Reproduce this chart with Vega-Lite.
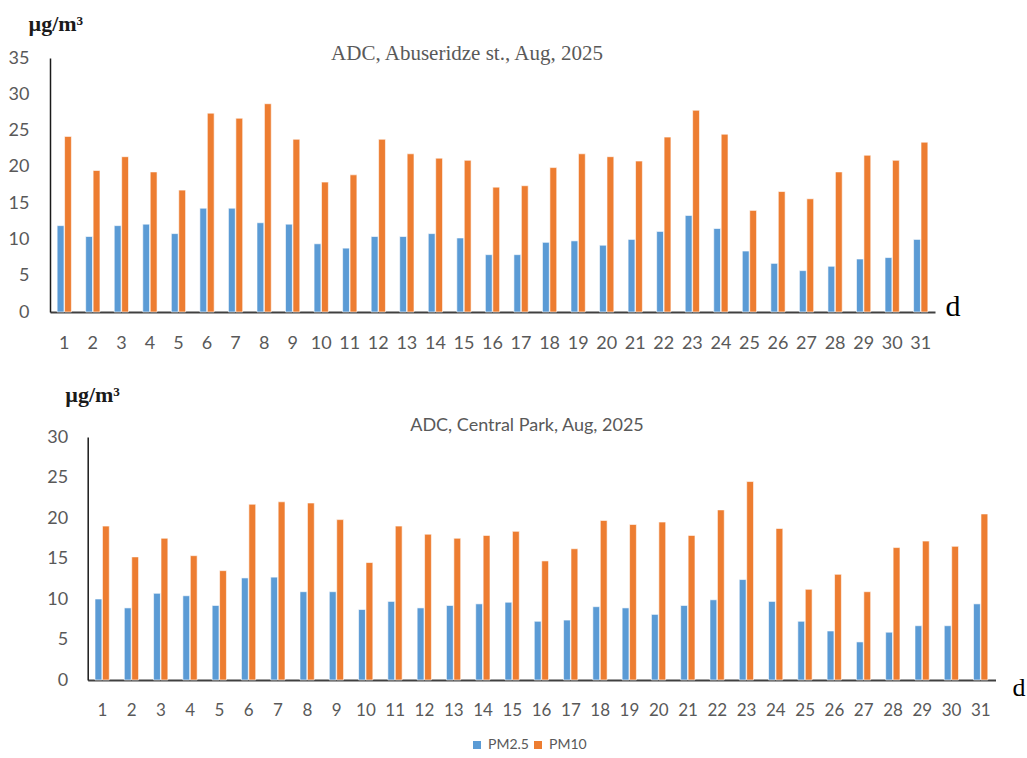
{
  "$schema": "https://vega.github.io/schema/vega-lite/v6.json",
  "padding": {"left": 8, "top": 12, "right": 5, "bottom": 5},
  "background": "white",
  "datasets": {
    "top": [
      {"day":1,"pollutant":"PM2.5","value":11.9},{"day":2,"pollutant":"PM2.5","value":10.4},{"day":3,"pollutant":"PM2.5","value":11.9},{"day":4,"pollutant":"PM2.5","value":12.1},{"day":5,"pollutant":"PM2.5","value":10.8},{"day":6,"pollutant":"PM2.5","value":14.3},{"day":7,"pollutant":"PM2.5","value":14.3},{"day":8,"pollutant":"PM2.5","value":12.3},{"day":9,"pollutant":"PM2.5","value":12.1},{"day":10,"pollutant":"PM2.5","value":9.4},{"day":11,"pollutant":"PM2.5","value":8.8},{"day":12,"pollutant":"PM2.5","value":10.4},{"day":13,"pollutant":"PM2.5","value":10.4},{"day":14,"pollutant":"PM2.5","value":10.8},{"day":15,"pollutant":"PM2.5","value":10.2},{"day":16,"pollutant":"PM2.5","value":7.9},{"day":17,"pollutant":"PM2.5","value":7.9},{"day":18,"pollutant":"PM2.5","value":9.6},{"day":19,"pollutant":"PM2.5","value":9.8},{"day":20,"pollutant":"PM2.5","value":9.2},{"day":21,"pollutant":"PM2.5","value":10.0},{"day":22,"pollutant":"PM2.5","value":11.1},{"day":23,"pollutant":"PM2.5","value":13.3},{"day":24,"pollutant":"PM2.5","value":11.5},{"day":25,"pollutant":"PM2.5","value":8.4},{"day":26,"pollutant":"PM2.5","value":6.7},{"day":27,"pollutant":"PM2.5","value":5.7},{"day":28,"pollutant":"PM2.5","value":6.3},{"day":29,"pollutant":"PM2.5","value":7.3},{"day":30,"pollutant":"PM2.5","value":7.5},{"day":31,"pollutant":"PM2.5","value":10.0},
      {"day":1,"pollutant":"PM10","value":24.2},{"day":2,"pollutant":"PM10","value":19.5},{"day":3,"pollutant":"PM10","value":21.4},{"day":4,"pollutant":"PM10","value":19.3},{"day":5,"pollutant":"PM10","value":16.8},{"day":6,"pollutant":"PM10","value":27.4},{"day":7,"pollutant":"PM10","value":26.7},{"day":8,"pollutant":"PM10","value":28.7},{"day":9,"pollutant":"PM10","value":23.8},{"day":10,"pollutant":"PM10","value":17.9},{"day":11,"pollutant":"PM10","value":18.9},{"day":12,"pollutant":"PM10","value":23.8},{"day":13,"pollutant":"PM10","value":21.8},{"day":14,"pollutant":"PM10","value":21.2},{"day":15,"pollutant":"PM10","value":20.9},{"day":16,"pollutant":"PM10","value":17.2},{"day":17,"pollutant":"PM10","value":17.4},{"day":18,"pollutant":"PM10","value":19.9},{"day":19,"pollutant":"PM10","value":21.8},{"day":20,"pollutant":"PM10","value":21.4},{"day":21,"pollutant":"PM10","value":20.8},{"day":22,"pollutant":"PM10","value":24.1},{"day":23,"pollutant":"PM10","value":27.8},{"day":24,"pollutant":"PM10","value":24.5},{"day":25,"pollutant":"PM10","value":14.0},{"day":26,"pollutant":"PM10","value":16.6},{"day":27,"pollutant":"PM10","value":15.6},{"day":28,"pollutant":"PM10","value":19.3},{"day":29,"pollutant":"PM10","value":21.6},{"day":30,"pollutant":"PM10","value":20.9},{"day":31,"pollutant":"PM10","value":23.4}
    ],
    "bottom": [
      {"day":1,"pollutant":"PM2.5","value":10.0},{"day":2,"pollutant":"PM2.5","value":8.9},{"day":3,"pollutant":"PM2.5","value":10.7},{"day":4,"pollutant":"PM2.5","value":10.4},{"day":5,"pollutant":"PM2.5","value":9.2},{"day":6,"pollutant":"PM2.5","value":12.6},{"day":7,"pollutant":"PM2.5","value":12.7},{"day":8,"pollutant":"PM2.5","value":10.9},{"day":9,"pollutant":"PM2.5","value":10.9},{"day":10,"pollutant":"PM2.5","value":8.7},{"day":11,"pollutant":"PM2.5","value":9.7},{"day":12,"pollutant":"PM2.5","value":8.9},{"day":13,"pollutant":"PM2.5","value":9.2},{"day":14,"pollutant":"PM2.5","value":9.4},{"day":15,"pollutant":"PM2.5","value":9.6},{"day":16,"pollutant":"PM2.5","value":7.25},{"day":17,"pollutant":"PM2.5","value":7.4},{"day":18,"pollutant":"PM2.5","value":9.05},{"day":19,"pollutant":"PM2.5","value":8.9},{"day":20,"pollutant":"PM2.5","value":8.1},{"day":21,"pollutant":"PM2.5","value":9.2},{"day":22,"pollutant":"PM2.5","value":9.9},{"day":23,"pollutant":"PM2.5","value":12.4},{"day":24,"pollutant":"PM2.5","value":9.7},{"day":25,"pollutant":"PM2.5","value":7.25},{"day":26,"pollutant":"PM2.5","value":6.05},{"day":27,"pollutant":"PM2.5","value":4.7},{"day":28,"pollutant":"PM2.5","value":5.9},{"day":29,"pollutant":"PM2.5","value":6.7},{"day":30,"pollutant":"PM2.5","value":6.7},{"day":31,"pollutant":"PM2.5","value":9.4},
      {"day":1,"pollutant":"PM10","value":19.0},{"day":2,"pollutant":"PM10","value":15.2},{"day":3,"pollutant":"PM10","value":17.5},{"day":4,"pollutant":"PM10","value":15.35},{"day":5,"pollutant":"PM10","value":13.5},{"day":6,"pollutant":"PM10","value":21.7},{"day":7,"pollutant":"PM10","value":22.0},{"day":8,"pollutant":"PM10","value":21.85},{"day":9,"pollutant":"PM10","value":19.8},{"day":10,"pollutant":"PM10","value":14.5},{"day":11,"pollutant":"PM10","value":19.0},{"day":12,"pollutant":"PM10","value":18.0},{"day":13,"pollutant":"PM10","value":17.5},{"day":14,"pollutant":"PM10","value":17.85},{"day":15,"pollutant":"PM10","value":18.35},{"day":16,"pollutant":"PM10","value":14.7},{"day":17,"pollutant":"PM10","value":16.2},{"day":18,"pollutant":"PM10","value":19.7},{"day":19,"pollutant":"PM10","value":19.2},{"day":20,"pollutant":"PM10","value":19.5},{"day":21,"pollutant":"PM10","value":17.85},{"day":22,"pollutant":"PM10","value":21.0},{"day":23,"pollutant":"PM10","value":24.5},{"day":24,"pollutant":"PM10","value":18.7},{"day":25,"pollutant":"PM10","value":11.2},{"day":26,"pollutant":"PM10","value":13.05},{"day":27,"pollutant":"PM10","value":10.9},{"day":28,"pollutant":"PM10","value":16.35},{"day":29,"pollutant":"PM10","value":17.15},{"day":30,"pollutant":"PM10","value":16.5},{"day":31,"pollutant":"PM10","value":20.5}
    ]
  },
  "bounds": "flush",
  "spacing": 125,
  "vconcat": [
    {
      "data": {"name": "top"},
      "width": 950,
      "height": 254,
      "title": {"text": "ADC, Abuseridze st., Aug, 2025", "font": "Liberation Serif", "fontSize": 21, "fontWeight": "normal", "color": "#595959", "anchor": "middle", "frame": "group", "dx": -58, "dy": 69, "baseline": "alphabetic", "offset": 0},
      "mark": {"type": "bar", "stroke": "white", "strokeWidth": 0.6},
      "encoding": {
        "x": {"field": "day", "type": "ordinal", "scale": {"range": [0, 885], "paddingInner": 0.5, "paddingOuter": 0.25},
          "axis": {"labelAngle": 0, "labelFont": "Lato", "labelFontSize": 18, "labelColor": "#595959", "labelBaseline": "middle", "labelPadding": 31, "ticks": false, "tickSize": 0, "domainColor": "#404040", "domainWidth": 2,
            "title": "d", "titleFont": "Liberation Serif", "titleFontSize": 30, "titleFontWeight": "normal", "titleColor": "#000000", "titleX": 895, "titleY": 3, "titleAlign": "left", "titleBaseline": "alphabetic", "titleAngle": 0}},
        "xOffset": {"field": "pollutant", "type": "nominal", "scale": {"domain": ["PM2.5", "PM10"], "paddingInner": 0.08}},
        "y": {"field": "value", "type": "quantitative", "scale": {"domain": [0, 35], "nice": false},
          "axis": {"values": [0,5,10,15,20,25,30,35], "grid": false, "ticks": false, "tickSize": 0, "labelFont": "Lato", "labelFontSize": 18, "labelColor": "#595959", "labelPadding": 21, "domainColor": "#1a1a1a", "domainWidth": 1.5,
            "title": "µg/m³", "titleFont": "Liberation Serif", "titleFontSize": 22, "titleFontWeight": "bold", "titleColor": "#1a1a1a", "titleAngle": 0, "titleX": -22, "titleY": -28, "titleAlign": "left", "titleBaseline": "alphabetic"}},
        "color": {"field": "pollutant", "type": "nominal", "scale": {"domain": ["PM2.5", "PM10"], "range": ["#5B9BD5", "#ED7D31"]},
          "legend": {"orient": "none", "legendX": 420, "legendY": 680, "direction": "horizontal", "title": null, "symbolType": "square", "symbolSize": 64, "symbolStrokeWidth": 0, "labelFont": "Lato", "labelFontSize": 14, "labelColor": "#595959", "columnPadding": 2, "labelOffset": 4}}
      }
    },
    {
      "data": {"name": "bottom"},
      "width": 950,
      "height": 243,
      "title": {"text": "ADC, Central Park, Aug, 2025", "font": "Lato", "fontSize": 18, "fontWeight": "normal", "color": "#595959", "anchor": "middle", "frame": "group", "dx": 2, "dy": 66, "baseline": "alphabetic", "offset": 0},
      "mark": {"type": "bar", "stroke": "white", "strokeWidth": 0.6},
      "encoding": {
        "x": {"field": "day", "type": "ordinal", "scale": {"range": [37.7, 945.5], "paddingInner": 0.5, "paddingOuter": 0.25},
          "axis": {"labelAngle": 0, "labelFont": "Lato", "labelFontSize": 17, "labelColor": "#595959", "labelBaseline": "middle", "labelPadding": 30, "ticks": false, "tickSize": 0, "domainColor": "#404040", "domainWidth": 2,
            "title": "d", "titleFont": "Liberation Serif", "titleFontSize": 26, "titleFontWeight": "normal", "titleColor": "#000000", "titleX": 962, "titleY": 15, "titleAlign": "left", "titleBaseline": "alphabetic", "titleAngle": 0}},
        "xOffset": {"field": "pollutant", "type": "nominal", "scale": {"domain": ["PM2.5", "PM10"], "paddingInner": 0.08}},
        "y": {"field": "value", "type": "quantitative", "scale": {"domain": [0, 30], "nice": false},
          "axis": {"values": [0,5,10,15,20,25,30], "offset": -37.7, "grid": false, "ticks": false, "tickSize": 0, "labelFont": "Lato", "labelFontSize": 18, "labelColor": "#595959", "labelPadding": 20, "domainColor": "#1a1a1a", "domainWidth": 1.5,
            "title": "µg/m³", "titleFont": "Liberation Serif", "titleFontSize": 22, "titleFontWeight": "bold", "titleColor": "#1a1a1a", "titleAngle": 0, "titleX": -23, "titleY": -36, "titleAlign": "left", "titleBaseline": "alphabetic"}},
        "color": {"field": "pollutant", "type": "nominal", "scale": {"domain": ["PM2.5", "PM10"], "range": ["#5B9BD5", "#ED7D31"]},
          "legend": {"orient": "none", "legendX": 420, "legendY": 680, "direction": "horizontal", "title": null, "symbolType": "square", "symbolSize": 64, "symbolStrokeWidth": 0, "labelFont": "Lato", "labelFontSize": 14, "labelColor": "#595959", "columnPadding": 2, "labelOffset": 4}}
      }
    }
  ],
  "config": {
    "view": {"stroke": null}
  }
}
